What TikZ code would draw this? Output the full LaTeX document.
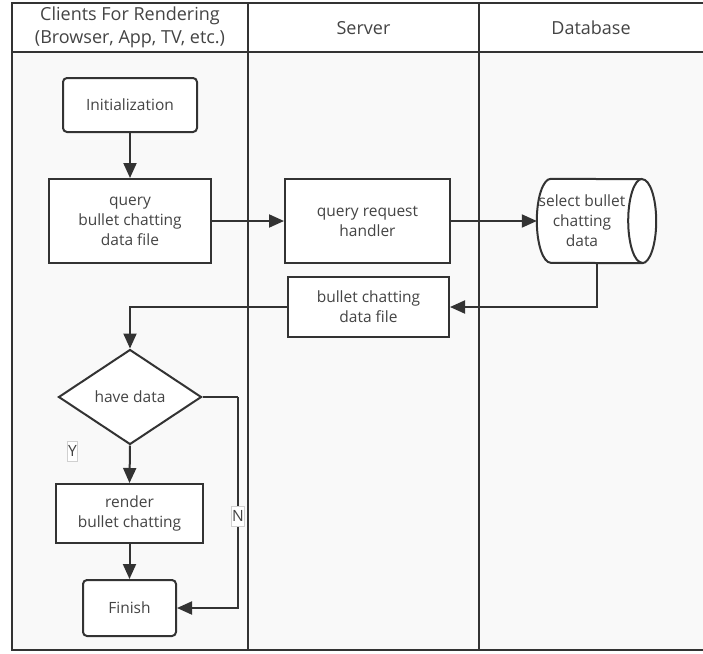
\documentclass[tikz,border=0pt]{standalone}
\usepackage{fontspec}
\setmainfont{Open Sans}
\usetikzlibrary{arrows.meta,shapes.geometric}
\definecolor{linec}{HTML}{333333}
\definecolor{txtc}{HTML}{444444}
\definecolor{lanebg}{HTML}{F9F9F9}
\definecolor{lblborder}{HTML}{D0D0D0}
\tikzset{
  lane/.style={draw=linec, line width=2.4pt},
  hdr/.style={text=txtc, font=\fontsize{18}{23}\selectfont, align=center},
  box/.style={draw=linec, line width=2pt, fill=white, text=txtc, align=center,
    font=\fontsize{15.5}{20}\selectfont, inner sep=0pt},
  rbox/.style={box, rounded corners=4pt},
  dec/.style={box, diamond, aspect=1.5},
  arr/.style={draw=linec, line width=2pt, -{Triangle[length=15pt,width=13pt]}},
  conn/.style={draw=linec, line width=2pt},
  lbl/.style={draw=lblborder, line width=0.8pt, fill=white, text=txtc,
    font=\fontsize{15.5}{18}\selectfont, inner xsep=1pt, inner ysep=0pt,
    minimum height=20pt}
}
\begin{document}
\begin{tikzpicture}[x=1pt,y=-1pt]
\useasboundingbox (0,0) rectangle (703,653);
% background
\fill[white] (0,0) rectangle (703,653);
\fill[lanebg] (12,52) rectangle (703,650);
% lanes
\draw[lane] (703,3) -- (12,3) -- (12,650) -- (703,650);
\draw[lane] (12,52) -- (703,52);
\draw[lane] (248,3) -- (248,650);
\draw[lane] (479,3) -- (479,650);
% headers
\node[hdr] (h1) at (130,27.5) {Clients For Rendering\\(Browser, App, TV, etc.)};
\node[hdr] (h2) at (363.5,28) {Server};
\node[hdr] (h3) at (591,28) {Database};
% nodes
\node[rbox, minimum width=134pt, minimum height=54pt] (init) at (130,105) {Initialization};
\node[box, minimum width=162pt, minimum height=84pt] (query) at (130,221) {query\\bullet chatting\\data file};
\node[box, minimum width=165pt, minimum height=84pt] (handler) at (367.5,221) {query request\\handler};
\node[minimum width=119pt, minimum height=84pt, inner sep=0pt] (db) at (596.5,221) {};
\draw[draw=linec, line width=2pt, fill=white]
  ([xshift=14pt]db.north west) arc[start angle=90, end angle=270, x radius=14pt, y radius=42pt]
  -- ([xshift=-14pt]db.south east) arc[start angle=-90, end angle=90, x radius=14pt, y radius=42pt]
  -- cycle;
\draw[draw=linec, line width=2pt]
  ([xshift=-14pt]db.north east) arc[start angle=90, end angle=270, x radius=14pt, y radius=42pt];
\node[text=txtc, align=center, font=\fontsize{15.5}{20}\selectfont, inner sep=0pt] (dbt) at (582,221) {select bullet\\chatting\\data};
\node[box, minimum width=161pt, minimum height=60pt] (file) at (368.5,307) {bullet chatting\\data file};
\node[dec, minimum width=143pt, minimum height=95pt] (have) at (130,397) {have data};
\node[box, minimum width=147pt, minimum height=59pt] (render) at (129.5,513.5) {render\\bullet chatting};
\node[rbox, minimum width=93pt, minimum height=56pt] (finish) at (129.5,608) {Finish};
\coordinate (ncorner) at (238,397);
% connectors
\draw[arr] (init.south) -- (query.north);
\draw[arr] (query.east) -- (handler.west);
\draw[arr] (handler.east) -- (db.west);
\draw[arr] (db.south) |- (file.east);
\draw[arr] (file.west) -| (have.north);
\draw[arr] (have.south) -- (render.north);
\draw[arr] (render.south) -- (finish.north);
\draw[conn] (have.east) -- (ncorner);
\draw[arr] (ncorner) |- (finish.east);
% labels
\node[lbl] (ylbl) at (72.5,451) {Y};
\node[lbl] (nlbl) at (238,516) {N};
\end{tikzpicture}
\end{document}
